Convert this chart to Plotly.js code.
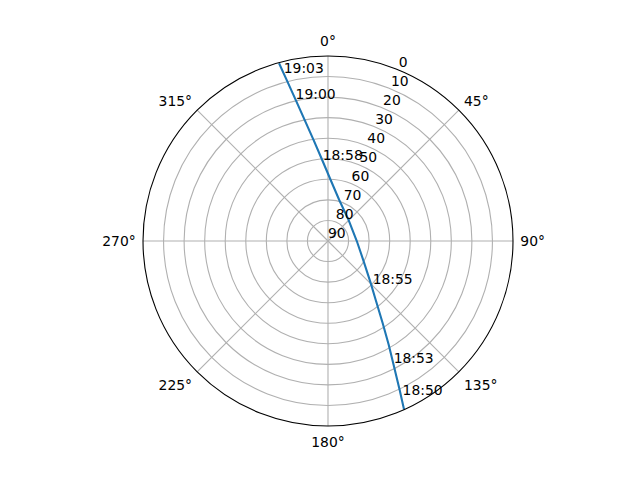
<!DOCTYPE html>
<html>
<head>
<meta charset="utf-8">
<script src="https://cdn.plot.ly/plotly-3.0.1.min.js"></script>
<style>html,body{margin:0;padding:0;background:#fff}#plot{width:640px;height:480px}</style>
</head>
<body>
<div id="plot"></div>
<script>
// Satellite pass track (azimuth in degrees, elevation in degrees), ordered in time
var trackAzimuth = [155.7, 154.3, 151.9, 149.7, 146.3, 141.0, 134.5, 118.4, 90.0, 44.6, 15.3, 2.5, 355.9, 351.9, 349.1, 347.1, 345.6, 344.6];
var trackElevation = [0.1, 9.6, 22.7, 31.4, 42.1, 53.1, 60.9, 70.5, 76.0, 75.7, 69.3, 60.3, 50.5, 40.4, 30.1, 19.6, 9.1, 0.3];

// Time labels along the track
var timeLabels = ['18:50', '18:53', '18:55', '18:58', '19:00', '19:03'];
var timeAzimuth = [154.6, 152.3, 136.4, 356.1, 346.8, 344.9];
var timeElevation = [5.4, 21.3, 58.5, 52.0, 21.0, 7.3];

// Axis ticks
var angleTicks = [0, 45, 90, 135, 180, 225, 270, 315];
var angleTickLabels = ['0°', '45°', '90°', '135°', '180°', '225°', '270°', '315°'];
var radialTicks = [0, 10, 20, 30, 40, 50, 60, 70, 80, 90];
var radialTickLabels = ['0', '10', '20', '30', '40', '50', '60', '70', '80', '90'];
var radialLabelAzimuth = 22.5;

var FONT = 'DejaVu Sans, sans-serif';

var traces = [
  {
    type: 'scatterpolar',
    mode: 'lines',
    theta: trackAzimuth,
    r: trackElevation,
    line: {color: '#1f77b4', width: 2.1},
    hoverinfo: 'skip',
    showlegend: false
  },
  {
    type: 'scatterpolar',
    mode: 'text',
    theta: timeAzimuth,
    r: timeElevation,
    text: timeLabels,
    textposition: 'top right',
    textfont: {family: FONT, size: 13.9, color: '#000'},
    hoverinfo: 'skip',
    showlegend: false,
    cliponaxis: false
  },
  {
    // radial tick labels, placed along the 22.5° direction like the reference
    type: 'scatterpolar',
    mode: 'text',
    theta: radialTicks.map(function () { return radialLabelAzimuth; }),
    r: radialTicks,
    text: radialTickLabels,
    textposition: 'top right',
    textfont: {family: FONT, size: 13.9, color: '#000'},
    hoverinfo: 'skip',
    showlegend: false,
    cliponaxis: false
  }
];

var layout = {
  width: 640,
  height: 480,
  margin: {l: 143, r: 127, t: 56, b: 54, pad: 0},
  paper_bgcolor: '#fff',
  plot_bgcolor: '#fff',
  font: {family: FONT, size: 13.9, color: '#000'},
  showlegend: false,
  polar: {
    bgcolor: '#fff',
    angularaxis: {
      rotation: 90,
      direction: 'clockwise',
      tickmode: 'array',
      tickvals: angleTicks,
      ticktext: angleTickLabels,
      showline: true,
      linecolor: '#000',
      linewidth: 1.1,
      gridcolor: '#b0b0b0',
      gridwidth: 1.1,
      ticks: 'outside',
      ticklen: 4,
      tickcolor: 'rgba(0,0,0,0)',
      tickfont: {family: FONT, size: 13.9, color: '#000'}
    },
    radialaxis: {
      range: [90, 0],
      tickmode: 'array',
      tickvals: radialTicks,
      ticktext: radialTickLabels,
      angle: 67.5,
      showticklabels: false,
      showline: false,
      ticks: '',
      gridcolor: '#b0b0b0',
      gridwidth: 1.1
    }
  }
};

Plotly.newPlot('plot', traces, layout, {staticPlot: true, displayModeBar: false});
</script>
</body>
</html>
